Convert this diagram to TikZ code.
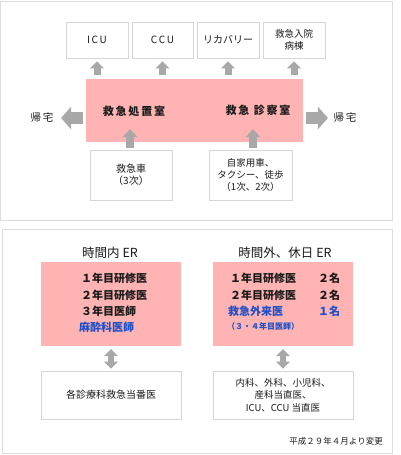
\documentclass[tikz,border=0pt]{standalone}
\usepackage{fontspec}
\setmainfont{Noto Sans CJK JP}
\usetikzlibrary{arrows.meta,calc}
\definecolor{pinkbg}{HTML}{FFB3B3}
\definecolor{arrowgray}{HTML}{A8A8A8}
\definecolor{boxline}{HTML}{D6D6D6}
\definecolor{panelline}{HTML}{DCDCDC}
\definecolor{txt}{HTML}{1A1A1A}
\definecolor{bluetxt}{HTML}{1E4FC8}
\tikzset{
  wbox/.style={draw=boxline, line width=0.9pt, fill=white, inner sep=0pt, align=center, text=txt},
  pbox/.style={fill=pinkbg, inner sep=0pt},
  plain/.style={inner sep=0pt, text=txt},
  bigarr/.style={draw=arrowgray, line width=12pt, -{Triangle[width=22pt,length=10pt]}},
  smallarr/.style={draw=arrowgray, line width=7pt, -{Triangle[width=14pt,length=7pt]}},
  uparr/.style={draw=arrowgray, line width=8pt, -{Triangle[width=14pt,length=8pt]}},
  dblarr/.style={draw=arrowgray, line width=6pt, {Triangle[width=14pt,length=7pt]}-{Triangle[width=14pt,length=7pt]}},
  panel/.style={draw=panelline, line width=1pt},
}
\begin{document}
\begin{tikzpicture}[x=1pt,y=-1pt]
\useasboundingbox (0,0) rectangle (400,455);
% panels
\draw[panel] (0.5,1) rectangle (392,220);
\draw[panel] (2,229) rectangle (392,453);

% ---------- top panel ----------
\begin{scope}[every node/.append style={font=\fontsize{10}{12}\selectfont}]
\node[wbox, minimum width=62, minimum height=36] (icu) at (97,40) {I\,C\,U};
\node[wbox, minimum width=61, minimum height=36] (ccu) at (162.5,40) {C\,C\,U};
\node[wbox, minimum width=62, minimum height=36] (rec) at (228,40) {リカバリー};
\node[wbox, minimum width=62, minimum height=36, font=\fontsize{9.5}{12}\selectfont] (ward) at (294,40) {救急入院\\病棟};
\end{scope}

\node[pbox, minimum width=217, minimum height=63] (er) at (194.5,110.5) {};
\node[plain, font=\fontsize{11}{13}\selectfont\bfseries] (shochi) at (134,111) {救\,急\,処\,置\,室};
\node[plain, font=\fontsize{11}{13}\selectfont\bfseries] (shinsatsu) at (258,110) {救\,急\ \,診\,察\,室};

\node[plain, font=\fontsize{10.5}{12}\selectfont] (home1) at (42,118) {帰\,宅};
\node[plain, font=\fontsize{10.5}{12}\selectfont] (home2) at (345,118) {帰\,宅};

\node[wbox, minimum width=82, minimum height=50, font=\fontsize{10}{12}\selectfont] (amb) at (131,175) {救急車\\（3次）};
\node[wbox, minimum width=83, minimum height=50, font=\fontsize{9.5}{12}\selectfont] (walk) at (250.5,175) {自家用車、\\タクシー、徒歩\\（1次、2次）};

% top arrows
\foreach \b in {icu,ccu,rec,ward}{
  \draw[smallarr, shorten <=4pt, shorten >=3pt] (er.north -| \b.south) -- (\b.south);
}
% left/right arrows
\draw[bigarr, shorten <=3pt, shorten >=7.5pt] (er.west |- home1) -- (home1.east);
\draw[bigarr, shorten <=3pt, shorten >=5.5pt] (er.east |- home2) -- (home2.west);
% bottom up arrows
\coordinate (tipA) at (130,129);
\coordinate (tipB) at (253,129);
\draw[uparr, shorten <=2pt] (amb.north -| tipA) -- (tipA);
\draw[uparr, shorten <=2pt] (walk.north -| tipB) -- (tipB);

% ---------- bottom panel ----------
\node[plain, font=\fontsize{12.5}{14}\selectfont] (t1) at (110,253) {時間内 ER};
\node[plain, font=\fontsize{12.5}{14}\selectfont] (t2) at (285,253) {時間外、休日 ER};

\node[pbox, minimum width=140, minimum height=84] (pl) at (111,304) {};
\node[pbox, minimum width=140, minimum height=84] (pr) at (283,304) {};

\begin{scope}[every node/.append style={plain, anchor=west, font=\fontsize{11}{13}\selectfont\bfseries}]
\node (l1) at (81,278) {１年目研修医};
\node (l2) at (81,295) {２年目研修医};
\node (l3) at (81,311) {３年目医師};
\node[text=bluetxt] (l4) at (79,327) {麻酔科医師};
\node (r1) at (230,278) {１年目研修医};
\node (r2) at (230,295) {２年目研修医};
\node[text=bluetxt] (r3) at (228,311) {救急外来医};
\node (n1) at (318,278) {２名};
\node (n2) at (318,295) {２名};
\node[text=bluetxt] (n3) at (318,311) {１名};
\node[text=bluetxt, font=\fontsize{8}{9}\selectfont\bfseries] (r4) at (227,326) {（３・４年目医師）};
\end{scope}

\node[wbox, minimum width=140, minimum height=48, font=\fontsize{10}{12}\selectfont] (bl) at (111,395) {各診療科救急当番医};
\node[wbox, minimum width=140, minimum height=48, font=\fontsize{9.5}{12.5}\selectfont] (br) at (283,395) {内科、外科、小児科、\\産科当直医、\\ICU、CCU 当直医};

\draw[dblarr, shorten <=3pt, shorten >=2pt] (pl.south) -- (bl.north);
\draw[dblarr, shorten <=3pt, shorten >=2pt] (pr.south) -- (br.north);

\node[plain, anchor=east, font=\fontsize{8.5}{10}\selectfont] (note) at (383,441) {平成２９年４月より変更};
\end{tikzpicture}
\end{document}
